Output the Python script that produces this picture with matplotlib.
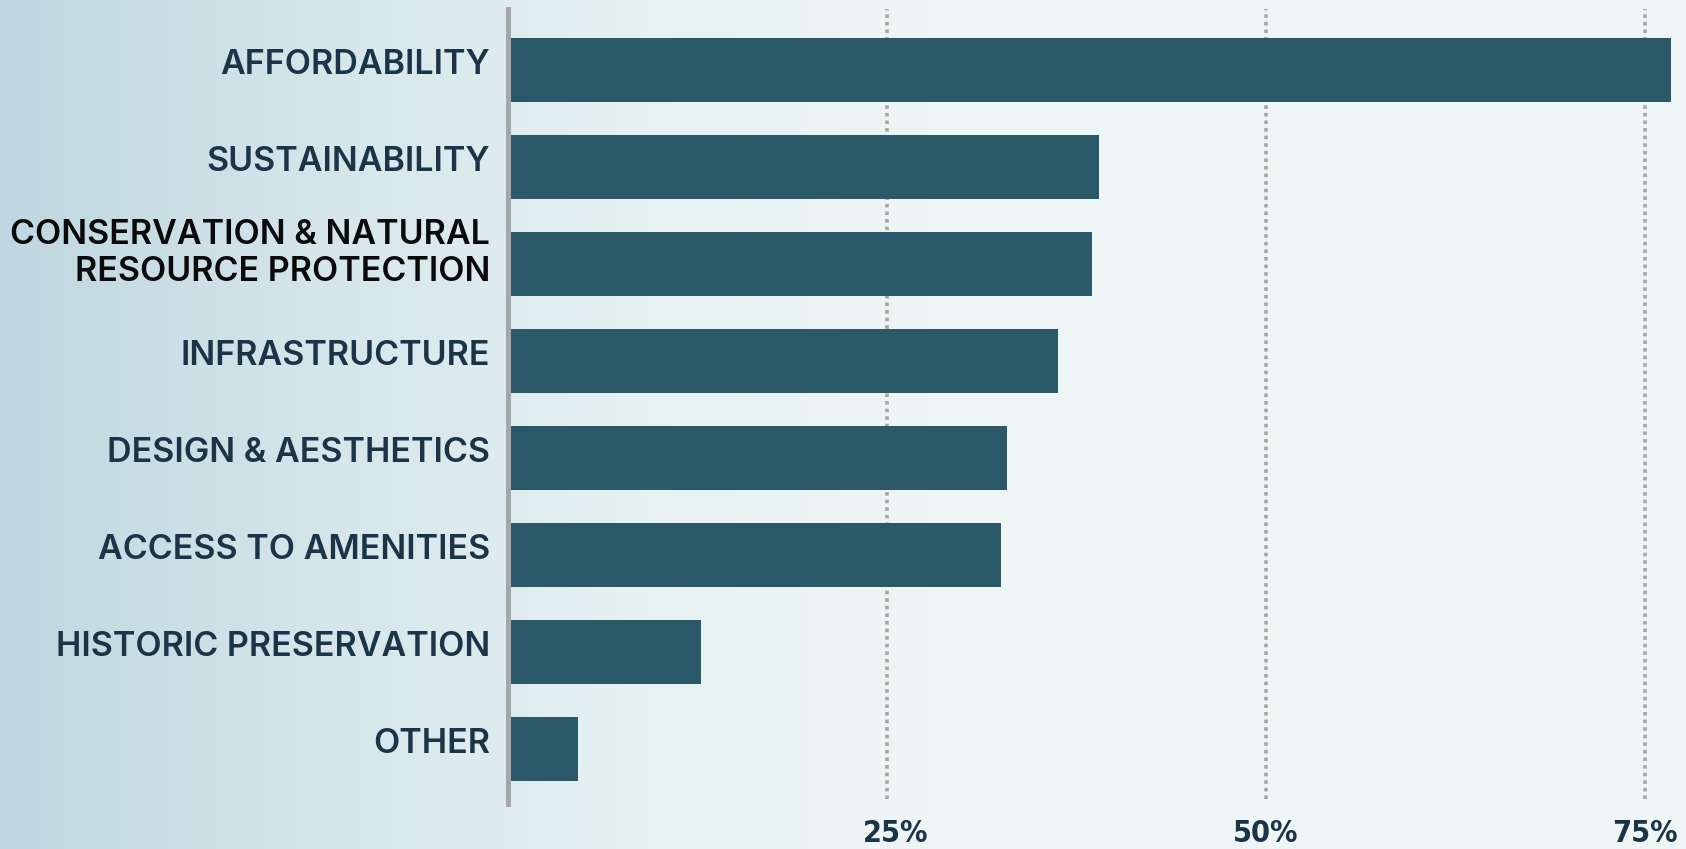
import numpy as np
import matplotlib
matplotlib.use("Agg")
import matplotlib.pyplot as plt
import matplotlib.transforms as mtransforms
from matplotlib.colors import LinearSegmentedColormap

# data
categories = ["AFFORDABILITY", "SUSTAINABILITY", "CONSERVATION & NATURAL\nRESOURCE PROTECTION",
              "INFRASTRUCTURE", "DESIGN & AESTHETICS", "ACCESS TO AMENITIES",
              "HISTORIC PRESERVATION", "OTHER"]
values = [76.7, 39.0, 38.5, 36.3, 32.9, 32.5, 12.7, 4.6]
tick_vals = [25, 50, 75]
tick_labels = ["25%", "50%", "75%"]

bar_color = "#2c5969"
label_color = "#1c3447"
grid_color = "#a6a6a6"

fig = plt.figure(figsize=(16.86, 8.49), dpi=100)

# background gradient (light blue on the left fading into pale mint)
bg = fig.add_axes([0, 0, 1, 1], zorder=-10)
bg_cmap = LinearSegmentedColormap.from_list(
    "bg", [(0.0, "#bfd7df"), (0.18, "#d4e5ea"), (0.40, "#e8f2f2"), (0.55, "#eef6f5"), (1.0, "#eff7f6")])
grad = np.linspace(0, 1, 512).reshape(1, -1)
bg.imshow(grad, aspect="auto", cmap=bg_cmap, extent=[0, 1, 0, 1])
bg.axis("off")

ax = fig.add_axes([508 / 1686, 1 - 804 / 849, 1 - 508 / 1686, (804 - 9) / 849])
ax.patch.set_alpha(0)

y = np.arange(len(categories))
ax.barh(y, values, height=0.65, color=bar_color, zorder=3)

ax.set_xlim(0, 77.7)
ax.set_ylim(7.567, -0.629)

for t in tick_vals:
    ax.plot([t, t], [7.52, -0.629], color=grid_color, lw=2.6, linestyle=(0, (1, 1.1)),
            zorder=1, solid_capstyle="butt", dash_capstyle="butt")

for s in ["top", "right", "bottom"]:
    ax.spines[s].set_visible(False)
ax.spines["left"].set_color(grid_color)
ax.spines["left"].set_linewidth(3.6)
ax.spines["left"].set_zorder(4)

ax.set_yticks(y)
ax.set_yticklabels(categories, fontsize=24.5, fontweight="semibold",
                   family=["Inter", "DejaVu Sans"], linespacing=1.22)
ax.tick_params(axis="y", length=0, pad=13)
for lbl in ax.get_yticklabels():
    lbl.set_color(label_color)
    dy = 9
    if lbl.get_text().startswith("CONSERVATION"):
        lbl.set_color("#0a0a0a")
        dy = 17
    lbl.set_transform(lbl.get_transform() +
                      mtransforms.ScaledTranslation(0, dy / 100, fig.dpi_scale_trans))

ax.set_xticks(tick_vals)
ax.set_xticklabels(tick_labels, fontsize=22, fontweight="bold", fontstretch="condensed",
                   family=["DejaVu Sans"], color=label_color)
ax.tick_params(axis="x", length=0, pad=11)
# the 25% label sits a little right of its gridline in the reference
first = ax.get_xticklabels()[0]
first.set_transform(first.get_transform() +
                    mtransforms.ScaledTranslation(9 / 100, 0, fig.dpi_scale_trans))

fig.savefig("out.png", dpi=100)
